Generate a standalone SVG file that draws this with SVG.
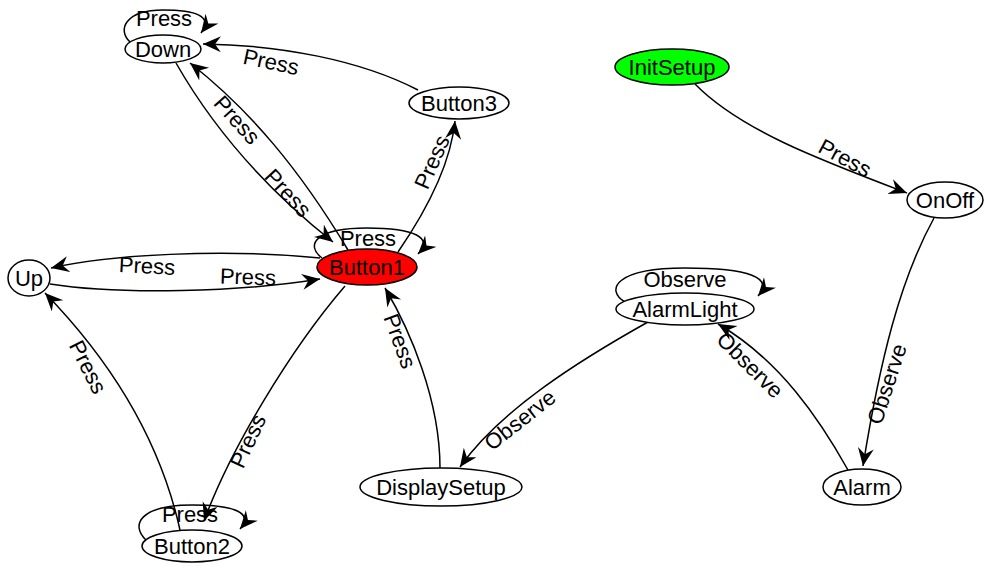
<svg xmlns="http://www.w3.org/2000/svg" width="984" height="567" viewBox="0 0 984 567">
<defs>
<marker id="arr" markerUnits="userSpaceOnUse" markerWidth="20" markerHeight="18" refX="18" refY="8" orient="auto">
<path d="M0,0 L18,8 L0,16 L6,8 z" fill="#000"/>
</marker>
<style>
.n ellipse{fill:#fff;stroke:#000;stroke-width:1.5}
.t{font-family:"Liberation Sans",Arial,sans-serif;font-size:22px;fill:#000;text-anchor:middle;dominant-baseline:central}
.e path{fill:none;stroke:#000;stroke-width:1.5;marker-end:url(#arr)}
</style>
</defs>
<rect width="984" height="567" fill="#fff"/>
<g id="connectors" class="e">
<path d="M130,42 C117,30 125,10 163,10 C195,10 214,16 201,33"/>
<path d="M418,90 C360,60 280,45 203,44"/>
<path d="M348,250 C300,170 250,110 190,63"/>
<path d="M176,63 C220,140 280,200 333,242"/>
<path d="M322,258 C305,245 315,228 367,228 C415,228 434,238 418,254"/>
<path d="M398,252 C420,220 450,170 455,121"/>
<path d="M320,258 C220,248 110,255 51,268"/>
<path d="M50,284 C120,295 240,292 320,279"/>
<path d="M180,530 C160,440 110,360 45,293"/>
<path d="M345,286 C290,350 230,450 204,521"/>
<path d="M146,540 C130,525 140,505 192,505 C235,505 254,513 240,529"/>
<path d="M440,468 C440,400 410,330 385,288"/>
<path d="M648,322 C580,360 500,410 460,467"/>
<path d="M848,470 C820,420 780,360 718,324"/>
<path d="M625,302 C605,290 615,268 685,268 C750,268 774,278 758,296"/>
<path d="M695,84 C740,130 820,160 907,193"/>
<path d="M934,218 C900,280 880,360 863,466"/>
</g>
<g id="edge-labels" class="t">
<text x="164" y="18" class="t">Press</text>
<text x="271" y="62" class="t" transform="rotate(12 271 62)">Press</text>
<text x="237" y="120" class="t" transform="rotate(48 237 120)">Press</text>
<text x="288" y="193" class="t" transform="rotate(47 288 193)">Press</text>
<text x="432" y="162" class="t" transform="rotate(-66 432 162)">Press</text>
<text x="368" y="238" class="t">Press</text>
<text x="147" y="266" class="t" transform="rotate(3 147 266)">Press</text>
<text x="248" y="277" class="t" transform="rotate(2 248 277)">Press</text>
<text x="88" y="367" class="t" transform="rotate(63 88 367)">Press</text>
<text x="248" y="441" class="t" transform="rotate(-65 248 441)">Press</text>
<text x="190" y="514" class="t">Press</text>
<text x="400" y="341" class="t" transform="rotate(70 400 341)">Press</text>
<text x="520" y="420" class="t" transform="rotate(-38 520 420)">Observe</text>
<text x="750" y="365" class="t" transform="rotate(45 750 365)">Observe</text>
<text x="685" y="279" class="t">Observe</text>
<text x="845" y="158" class="t" transform="rotate(28 845 158)">Press</text>
<text x="887" y="384" class="t" transform="rotate(-72 887 384)">Observe</text>
</g>
<g id="Down" class="n"><ellipse cx="163" cy="49" rx="38" ry="14"/><text x="163" y="49" class="t">Down</text></g>
<g id="Button3" class="n"><ellipse cx="459" cy="103" rx="50" ry="16"/><text x="459" y="103" class="t">Button3</text></g>
<g id="Button1" class="n"><ellipse cx="367" cy="267" rx="50" ry="18" style="fill:#ff0000"/><text x="367" y="267" class="t">Button1</text></g>
<g id="Up" class="n"><ellipse cx="29" cy="278" rx="21" ry="18"/><text x="29" y="278" class="t">Up</text></g>
<g id="Button2" class="n"><ellipse cx="192" cy="546" rx="50" ry="16"/><text x="192" y="546" class="t">Button2</text></g>
<g id="InitSetup" class="n"><ellipse cx="672" cy="67" rx="57" ry="18" style="fill:#00ff00"/><text x="672" y="67" class="t">InitSetup</text></g>
<g id="OnOff" class="n"><ellipse cx="945" cy="200" rx="38" ry="18"/><text x="945" y="200" class="t">OnOff</text></g>
<g id="AlarmLight" class="n"><ellipse cx="685" cy="309" rx="69" ry="16"/><text x="685" y="309" class="t">AlarmLight</text></g>
<g id="DisplaySetup" class="n"><ellipse cx="441" cy="487" rx="81" ry="19"/><text x="441" y="487" class="t">DisplaySetup</text></g>
<g id="Alarm" class="n"><ellipse cx="862" cy="487" rx="39" ry="18"/><text x="862" y="487" class="t">Alarm</text></g>
</svg>
